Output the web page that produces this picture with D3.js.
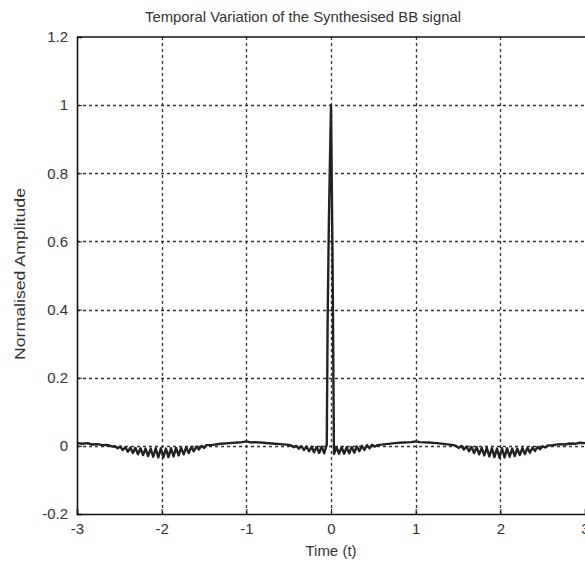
<!DOCTYPE html>
<html>
<head>
<meta charset="utf-8">
<script src="https://cdn.jsdelivr.net/npm/d3@7"></script>
<style>
  body { margin: 0; background: #fff; }
  svg { display: block; font-family: "Liberation Sans", Arial, sans-serif; }
</style>
</head>
<body>
<div id="chart"></div>
<script>
// tick labels
const xTicks = [-3, -2, -1, 0, 1, 2, 3];
const yTicks = [-0.2, 0, 0.2, 0.4, 0.6, 0.8, 1, 1.2];

const timeS = [
  -3.00, -2.94, -2.88, -2.82, -2.76, -2.70, -2.64, -2.58,
  -2.55, -2.52, -2.49, -2.46, -2.43, -2.40, -2.37, -2.34, -2.31, -2.28,
  -2.25, -2.22, -2.19, -2.16, -2.13, -2.10, -2.07, -2.04, -2.01, -1.98,
  -1.95, -1.92, -1.89, -1.86, -1.83, -1.80, -1.77, -1.74, -1.71, -1.68,
  -1.65, -1.62, -1.59, -1.56, -1.53, -1.50, -1.47,
  -1.40, -1.30, -1.20, -1.10, -1.05, -1.00, -0.95, -0.90, -0.80, -0.70, -0.60, -0.50,
  -0.47, -0.44, -0.41, -0.38, -0.35, -0.32, -0.29, -0.26, -0.23, -0.20,
  -0.17, -0.14, -0.11, -0.08, -0.05,
  -0.04, -0.025, 0.0, 0.02,
  0.035, 0.065, 0.095, 0.125, 0.155, 0.185, 0.215, 0.245, 0.275, 0.305,
  0.335, 0.365, 0.395, 0.425, 0.455, 0.485, 0.515,
  0.55, 0.65, 0.75, 0.85, 0.95, 1.00, 1.05, 1.15, 1.25, 1.35, 1.45,
  1.48, 1.51, 1.54, 1.57, 1.60, 1.63, 1.66, 1.69, 1.72, 1.75,
  1.78, 1.81, 1.84, 1.87, 1.90, 1.93, 1.96, 1.99, 2.02, 2.05,
  2.08, 2.11, 2.14, 2.17, 2.20, 2.23, 2.26, 2.29, 2.32, 2.35,
  2.38, 2.41, 2.44, 2.47, 2.50, 2.53, 2.56,
  2.62, 2.70, 2.76, 2.82, 2.88, 2.94, 3.00
];
const ampl = [
  0.008, 0.006, 0.008, 0.004, 0.005, 0.002, 0.003, -0.002,
  -0.001, -0.007, -0.002, -0.012, -0.004, -0.017, -0.005, -0.021, -0.006, -0.025,
  -0.007, -0.027, -0.008, -0.030, -0.008, -0.032, -0.007, -0.034, -0.007, -0.034,
  -0.008, -0.033, -0.007, -0.031, -0.006, -0.028, -0.006, -0.025, -0.004, -0.021,
  -0.003, -0.016, -0.002, -0.011, 0.000, -0.006, 0.002,
  0.003, 0.006, 0.008, 0.010, 0.011, 0.013, 0.010, 0.011, 0.009, 0.007, 0.005, 0.003,
  0.001, -0.004, 0.000, -0.008, -0.001, -0.012, -0.002, -0.016, -0.003, -0.019,
  -0.003, -0.021, -0.002, -0.022, 0.004,
  0.36, 0.66, 1.0, 0.5,
  -0.024, -0.004, -0.023, -0.004, -0.023, -0.004, -0.022, -0.003, -0.020, -0.002,
  -0.016, 0.000, -0.012, 0.002, -0.007, 0.003, -0.002,
  0.002, 0.005, 0.008, 0.010, 0.011, 0.013, 0.011, 0.010, 0.008, 0.005, 0.002,
  -0.001, -0.006, 0.000, -0.011, -0.002, -0.016, -0.003, -0.021, -0.004, -0.025,
  -0.006, -0.028, -0.006, -0.031, -0.007, -0.033, -0.008, -0.035, -0.007, -0.034,
  -0.007, -0.032, -0.008, -0.030, -0.008, -0.027, -0.007, -0.024, -0.006, -0.020,
  -0.005, -0.015, -0.003, -0.010, -0.001, -0.005, 0.001,
  0.002, 0.005, 0.004, 0.007, 0.006, 0.009, 0.008
];

const width = 585, height = 563;
const margin = { top: 37, right: 0, bottom: 49, left: 77 };
const ink = "#333";

const svg = d3.select("#chart").append("svg")
  .attr("width", width)
  .attr("height", height);

const x = d3.scaleLinear().domain([-3, 3]).range([margin.left, width - margin.right]);
const y = d3.scaleLinear().domain([-0.2, 1.2]).range([height - margin.bottom, margin.top]);

// dotted grid
svg.append("g")
  .selectAll("line")
  .data(xTicks.slice(1, -1))
  .join("line")
  .attr("x1", d => Math.round(x(d)) + 0.5).attr("x2", d => Math.round(x(d)) + 0.5)
  .attr("y1", y(1.2)).attr("y2", y(-0.2))
  .attr("stroke", "#333").attr("stroke-width", 1.3)
  .attr("stroke-dasharray", "3,3");
svg.append("g")
  .selectAll("line")
  .data(yTicks.slice(1, -1))
  .join("line")
  .attr("y1", d => Math.round(y(d)) + 0.5).attr("y2", d => Math.round(y(d)) + 0.5)
  .attr("x1", x(-3)).attr("x2", x(3))
  .attr("stroke", "#333").attr("stroke-width", 1.3)
  .attr("stroke-dasharray", "3,3");

// signal
const series = timeS.map((t, i) => [t, ampl[i]]);
svg.append("path")
  .datum(series)
  .attr("fill", "none")
  .attr("stroke", "#222")
  .attr("stroke-width", 2.4)
  .attr("stroke-linejoin", "round")
  .attr("d", d3.line().x(d => x(d[0])).y(d => y(d[1])));

// axes (MATLAB style: ticks inside, box around)
const gx = svg.append("g")
  .attr("transform", `translate(0,${y(-0.2)})`)
  .call(d3.axisBottom(x).tickValues(xTicks).tickSize(-5).tickPadding(9));
const gy = svg.append("g")
  .attr("transform", `translate(${x(-3)},0)`)
  .call(d3.axisLeft(y).tickValues(yTicks).tickSize(-5).tickPadding(9));
[gx, gy].forEach(g => {
  g.select(".domain").attr("stroke", "#111").attr("stroke-width", 1.6);
  g.selectAll(".tick line").attr("stroke", "#111");
  g.selectAll(".tick text")
    .attr("fill", ink)
    .attr("font-size", 15)
    .attr("font-family", "Liberation Sans, Arial, sans-serif");
});
gx.selectAll(".tick text").text(d => d < 0 ? "-" + Math.abs(d) : d);
gy.selectAll(".tick text").text(d => d < 0 ? "-" + d3.format(".1f")(Math.abs(d)) : (d === 0 || d === 1 ? d : d3.format(".1f")(d)));

// top box line (right side falls outside the crop)
svg.append("line")
  .attr("x1", x(-3)).attr("x2", x(3)).attr("y1", y(1.2)).attr("y2", y(1.2))
  .attr("stroke", "#111").attr("stroke-width", 1.6);

// labels
svg.append("text")
  .attr("x", 303).attr("y", 22)
  .attr("text-anchor", "middle")
  .attr("font-size", 15)
  .attr("fill", ink)
  .attr("textLength", 316).attr("lengthAdjust", "spacingAndGlyphs")
  .text("Temporal Variation of the Synthesised BB signal");
svg.append("text")
  .attr("x", 331).attr("y", 556)
  .attr("text-anchor", "middle")
  .attr("font-size", 15)
  .attr("fill", ink)
  .text("Time (t)");
svg.append("text")
  .attr("transform", "translate(25,274) rotate(-90)")
  .attr("text-anchor", "middle")
  .attr("font-size", 15)
  .attr("fill", ink)
  .attr("textLength", 172).attr("lengthAdjust", "spacingAndGlyphs")
  .text("Normalised Amplitude");
</script>
</body>
</html>
